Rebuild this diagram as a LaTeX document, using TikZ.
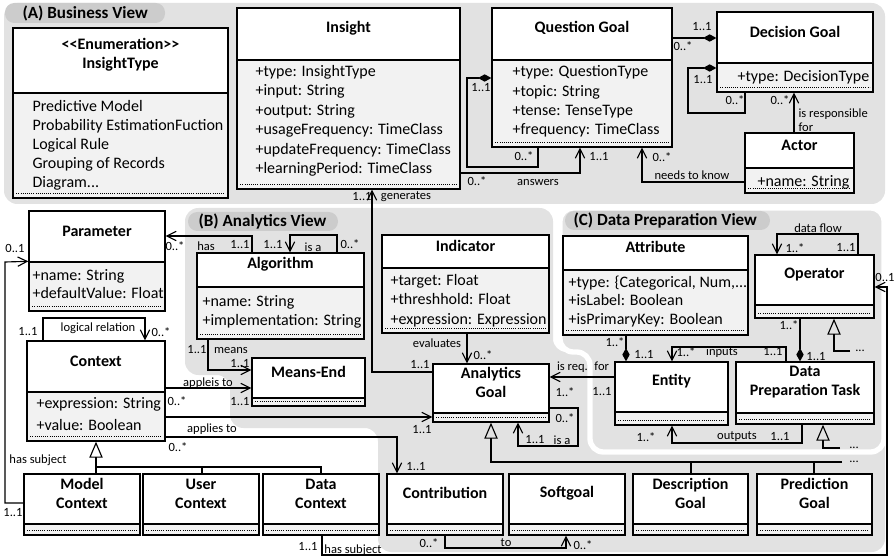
\documentclass[tikz,border=0pt]{standalone}
\usepackage{fontspec}
\setmainfont{Carlito}
\usetikzlibrary{arrows.meta,calc,fit}
\definecolor{regionfill}{RGB}{226,226,226}
\definecolor{pillfill}{RGB}{204,204,204}
\definecolor{attrfill}{RGB}{242,242,242}
\tikzset{every picture/.style={line width=0.85pt}}
\tikzset{
  clshead/.style={draw, fill=white, line width=1pt, inner sep=0pt, align=center, font=\bfseries\fontsize{12}{14.25}\selectfont},
  clsattr/.style={draw, fill=attrfill, line width=1pt, inner sep=0pt},
  attrtext/.style={inner sep=0pt, anchor=west, align=left, font=\fontsize{12}{#1}\selectfont},
  attrtext/.default=14.6pt,
  lbl/.style={inner sep=0pt, font=\fontsize{9.4}{10.5}\selectfont},
  region/.style={fill=regionfill, rounded corners=10pt},
  pill/.style={fill=pillfill, rounded corners=7pt},
  viewtitle/.style={inner sep=0pt, anchor=west, font=\bfseries\fontsize{12.8}{15}\selectfont},
  dotline/.style={densely dotted, line width=0.6pt},
  assoc/.style={-{Straight Barb[length=7pt,width=7pt]}},
  compo/.style={{Diamond[length=10pt,width=5.5pt]}-},
  gener/.style={-{Triangle[open,length=12pt,width=10pt]}}
}

\begin{document}
\begin{tikzpicture}[x=0.75pt,y=0.75pt,yscale=-1,xscale=1]
\useasboundingbox (0,0) rectangle (895,559);

%Shape: Region (A)
\path[region] (4,3) rectangle (885,204);
\path[pill] (5,3) rectangle (165,23);
\node[viewtitle] (viewA) at (22,13) {(A) Business View};
%Shape: Region (B)
\path[region] (185,208) -- (553,208) -- (553,352) -- (885,352) -- (885,552) -- (378,552) -- (378,428) -- (230,428) -- (230,375) -- (185,375) -- cycle;
\path[pill] (188,212) rectangle (338,231);
\node[viewtitle] (viewB) at (198,222) {(B) Analytics View};
%Shape: Region (C)
\path[region, draw=white, line width=4pt] (560,208) -- (884,208) -- (884,452) -- (590,452) -- (590,352) -- (560,352) -- cycle;
\path[pill] (565,211) rectangle (770,230);
\node[viewtitle] (viewC) at (573,221) {(C) Data Preparation View};

%Shape: Class boxes (A)
\node[clshead, fit={(13,28) (228,93)}] (itH) {{<}\kern0pt{<}Enumeration{>}\kern0pt{>}\\InsightType};
\node[clsattr, fit={(13,93) (228,198)}] (itA) {};
\node[clshead, fit={(237,8) (460,60)}] (insH) {Insight};
\node[clsattr, fit={(237,60) (460,189)}] (insA) {};
\node[clshead, fit={(492,8) (672,60)}] (qgH) {Question Goal};
\node[clsattr, fit={(492,60) (672,147)}] (qgA) {};
\node[clshead, fit={(717,12) (873,63)}] (dgH) {Decision Goal};
\node[clsattr, fit={(717,63) (873,92)}] (dgA) {};
\node[clshead, fit={(745,133) (854,168)}] (actH) {Actor};
\node[clsattr, fit={(745,168) (854,193)}] (actA) {};

%Shape: Class boxes (B)
\node[clshead, fit={(29,211) (165,262)}] (parH) {Parameter};
\node[clsattr, fit={(29,262) (165,311)}] (parA) {};
\node[clshead, fit={(197,253) (364,287)}] (algH) {Algorithm};
\node[clsattr, fit={(197,287) (364,339)}] (algA) {};
\node[clshead, fit={(382,235) (549,268)}] (indH) {Indicator};
\node[clsattr, fit={(382,268) (549,333)}] (indA) {};
\node[clshead, fit={(252,358) (365,398)}] (meH) {Means-End};
\node[clsattr, fit={(252,398) (365,406)}] (meA) {};
\node[clshead, fit={(433,364) (549,413)}] (agH) {Analytics\\Goal};
\node[clsattr, fit={(433,413) (549,422)}] (agA) {};
\node[clshead, fit={(27,341) (165,392)}] (ctxH) {Context};
\node[clsattr, fit={(27,392) (165,441)}] (ctxA) {};
\node[clshead, fit={(24,474) (140,524)}] (mcH) {Model\\Context};
\node[clsattr, fit={(24,524) (140,535)}] (mcA) {};
\node[clshead, fit={(143,474) (259,524)}] (ucH) {User\\Context};
\node[clsattr, fit={(143,524) (259,535)}] (ucA) {};
\node[clshead, fit={(263,474) (379,524)}] (dcH) {Data\\Context};
\node[clsattr, fit={(263,524) (379,535)}] (dcA) {};
\node[clshead, fit={(387,474) (503,524)}] (conH) {Contribution};
\node[clsattr, fit={(387,524) (503,535)}] (conA) {};
\node[clshead, fit={(509,474) (625,524)}] (sgH) {Softgoal};
\node[clsattr, fit={(509,524) (625,535)}] (sgA) {};
\node[clshead, fit={(633,474) (748,524)}] (dgoH) {Description\\Goal};
\node[clsattr, fit={(633,524) (748,535)}] (dgoA) {};
\node[clshead, fit={(757,474) (872,524)}] (pgoH) {Prediction\\Goal};
\node[clsattr, fit={(757,524) (872,535)}] (pgoA) {};

%Shape: Class boxes (C)
\node[clshead, fit={(563,236) (748,270)}] (attH) {Attribute};
\node[clsattr, fit={(563,270) (748,335)}] (attA) {};
\node[clshead, fit={(755,255) (874,305)}] (opH) {Operator};
\node[clsattr, fit={(755,305) (874,318)}] (opA) {};
\node[clshead, fit={(615,362) (728,412)}] (entH) {Entity};
\node[clsattr, fit={(615,412) (728,425)}] (entA) {};
\node[clshead, fit={(736,362) (874,413)}] (dptH) {Data\\Preparation Task};
\node[clsattr, fit={(736,413) (874,424)}] (dptA) {};

\foreach \n in {itA,insA,qgA,dgA,actA,parA,algA,indA,meA,agA,ctxA,mcA,ucA,dcA,conA,sgA,dgoA,pgoA,attA,opA,entA,dptA}
  \draw[dotline] ($(\n.south west)+(4,-5)$) -- ($(\n.south east)+(-4,-5)$);

% Text Node
\node[attrtext=14.25pt] (itT) at (32,145) {Predictive Model\\Probability EstimationFuction\\Logical Rule\\Grouping of Records\\Diagram...};
\node[attrtext] (insT) at (255,120.75) {+type: InsightType\\+input: String\\+output: String\\+usageFrequency: TimeClass\\+updateFrequency: TimeClass\\+learningPeriod: TimeClass};
\node[attrtext] (qgT) at (512,101.5) {+type: QuestionType\\+topic: String\\+tense: TenseType\\+frequency: TimeClass};
\node[attrtext] (dgT) at (737,77) {+type: DecisionType};
\node[attrtext] (actT) at (757,182) {+name: String};
\node[attrtext=13.9pt] (parT) at (32,284) {+name: String\\+defaultValue: Float};
\node[attrtext=14.25pt] (algT) at (202,311.5) {+name: String\\+implementation: String};
\node[attrtext] (indT) at (390,300.5) {+target: Float\\+threshhold: Float\\+expression: Expression};
\node[attrtext=13.9pt] (attT) at (568,301.5) {+type: \{Categorical, Num,...\\+isLabel: Boolean\\+isPrimaryKey: Boolean};
\node[attrtext=16.5pt] (ctxT) at (36,414) {+expression: String\\+value: Boolean};

%Straight Lines (A)
\draw[assoc] (insA.east |- 0,173) -| (qgA.south -| 580,0);
\draw[compo] (qgA.west |- 0,78) -- (467,78) |- (538,167) -- (qgA.south -| 538,0);
\draw[compo] (dgH.west |- 0,38) -- (qgH.east |- 0,38);
\draw[compo] (dgA.west |- 0,68) -- (688,68) |- (745,113) -- (dgA.south -| 745,0);
\draw[assoc] (actH.north -| 794,0) -- (dgA.south -| 794,0);
\draw[assoc] (actA.west |- 0,182) -| (qgA.south -| 642,0);
\draw[assoc] (agH.west |- 0,372) -| (insA.south -| 372,0);

%Straight Lines (B)
\draw[assoc] (algH.north -| 252,0) |- (parH.east |- 0,236);
\draw[assoc] (algH.north -| 337,0) |- (290,235) -- (algH.north -| 290,0);
\draw[assoc] (algA.south -| 208,0) |- (meH.west |- 0,370);
\draw[assoc] (ctxH.east |- 0,388) -- (meH.west |- 0,388);
\draw[assoc] (ctxA.east |- 0,417) -- (agA.west |- 0,417);
\draw[assoc] (ctxA.east |- 0,437) -| (conH.north -| 397,0);
\draw[assoc] (indA.south -| 467,0) -- (agH.north -| 467,0);
\draw[assoc] (entH.west |- 0,377) -- (agH.east |- 0,377);
\draw[assoc] (agH.east |- 0,408) -| (578,446) -| (agA.south -| 518,0);
\draw[assoc] (conA.south -| 445,0) |- (566,548) -- (sgA.south -| 566,0);
\draw[assoc] (ctxH.north -| 43,0) |- (145,318) -- (ctxH.north -| 145,0);
\draw[assoc] (mcH.west |- 0,503) -| (5,262) -- (parA.north west);
\draw[assoc] (dcA.south -| 322,0) |- (887,555) |- (opH.east |- 0,287);

%Straight Lines (C)
\draw[compo] (entH.north -| 626,0) -- (attA.south -| 626,0);
\draw[assoc] (opH.north -| 858,0) |- (777,234) -- (opH.north -| 777,0);
\draw[compo] (dptH.north -| 800,0) -- (opA.south -| 800,0);
\draw[assoc] (dptH.north -| 786,0) |- (672,347) -- (entH.north -| 672,0);
\draw[assoc] (dptA.south -| 802,0) |- (672,443) -- (entA.south -| 672,0);

%Generalisations
\coordinate (agEnd) at (842,462);
\coordinate (opEnd) at (850,351);
\coordinate (dptEnd) at (840,448);
\draw[gener] (agEnd) -- (491,462) -- (agA.south -| 491,0);
\draw (dgoH.north -| 691,0) -- (691,462);
\draw (pgoH.north -| 814,0) -- (814,462);
\draw[gener] (opEnd) -| (opA.south -| 834,0);
\draw[gener] (dptEnd) -| (dptA.south -| 823,0);
\draw[gener] (mcH.north -| 96,0) -- (ctxA.south -| 96,0);
\draw (96,467) -| (dcH.north -| 321,0);
\draw (ucH.north -| 202,0) -- (202,467);

% Text Node
\node[lbl] (ans0) at (477,181) {0..*};
\node[lbl] (ans) at (538,183) {answers};
\node[lbl] (ans1) at (599,157) {1..1};
\node[lbl] (qgs1) at (481,88) {1..1};
\node[lbl] (qgs0) at (524,156) {0..*};
\node[lbl] (qd1) at (702,27) {1..1};
\node[lbl] (qd0) at (683,46) {0..*};
\node[lbl] (dgs1) at (703,80) {1..1};
\node[lbl] (dgs0) at (735,100) {0..*};
\node[lbl] (resp0) at (780,100) {0..*};
\node[lbl, anchor=west, align=left] (resp) at (798,120) {is responsible\\for};
\node[lbl] (ntk0) at (662,157) {0..*};
\node[lbl] (ntk) at (692,175) {needs to know};
\node[lbl] (gen1) at (362,197) {1..1};
\node[lbl] (gen) at (406,197) {generates};
\node[lbl] (gen2) at (420,365) {1..1};
\node[lbl] (has) at (206,246) {has};
\node[lbl] (has0) at (175,246) {0..*};
\node[lbl] (has1) at (240,245) {1..1};
\node[lbl] (isa1) at (273,245) {1..1};
\node[lbl] (isa) at (313,247) {is a};
\node[lbl] (isa0) at (350,244) {0..*};
\node[lbl] (mea1) at (197,350) {1..1};
\node[lbl] (mea) at (231,351) {means};
\node[lbl] (mea2) at (240,364) {1..1};
\node[lbl] (app) at (208,383) {appleis to};
\node[lbl] (app0) at (177,401) {0..*};
\node[lbl] (app1) at (240,402) {1..1};
\node[lbl] (apg) at (212,429) {applies to};
\node[lbl] (apg0) at (178,447) {0..*};
\node[lbl] (apg1) at (422,430) {1..1};
\node[lbl] (apc1) at (416,467) {1..1};
\node[lbl] (ev) at (437,343) {evaluates};
\node[lbl] (ev0) at (483,355) {0..*};
\node[lbl] (irf) at (583,367) {is req.~ for};
\node[lbl] (irf0) at (565,392) {1..*};
\node[lbl] (irf1) at (602,392) {1..1};
\node[lbl] (agi0) at (565,418) {0..*};
\node[lbl] (agi1) at (535,440) {1..1};
\node[lbl] (agi) at (562,440) {is a};
\node[lbl] (dots1) at (854,462) {...};
\node[lbl] (to0) at (429,543) {0..*};
\node[lbl] (to) at (506,543) {to};
\node[lbl] (to1) at (583,545) {0..*};
\node[lbl] (hs1) at (308,547) {1..1};
\node[lbl] (hs) at (353,550) {has subject};
\node[lbl] (hs0) at (885,277) {0..1};
\node[lbl] (mh0) at (15,248) {0..1};
\node[lbl] (mh1) at (13,513) {1..1};
\node[lbl] (mh) at (38,460) {has subject};
\node[lbl] (lr1) at (28,332) {1..1};
\node[lbl] (lr) at (98,328) {logical relation};
\node[lbl] (lr0) at (161,332) {0..*};
\node[lbl] (ae0) at (615,342) {1..*};
\node[lbl] (ae1) at (644,355) {1..1};
\node[lbl] (df) at (818,228) {data flow};
\node[lbl] (df0) at (795,248) {1..*};
\node[lbl] (df1) at (846,248) {1..1};
\node[lbl] (od0) at (789,325) {1..*};
\node[lbl] (od1) at (816,357) {1..1};
\node[lbl] (dots2) at (860,351) {...};
\node[lbl] (in0) at (686,352) {1..*};
\node[lbl] (in) at (722,352) {inputs};
\node[lbl] (in1) at (773,352) {1..1};
\node[lbl] (out) at (737,437) {outputs};
\node[lbl] (out1) at (780,437) {1..1};
\node[lbl] (out0) at (646,437) {1..*};
\node[lbl] (dots3) at (854,448) {...};

\end{tikzpicture}
\end{document}
